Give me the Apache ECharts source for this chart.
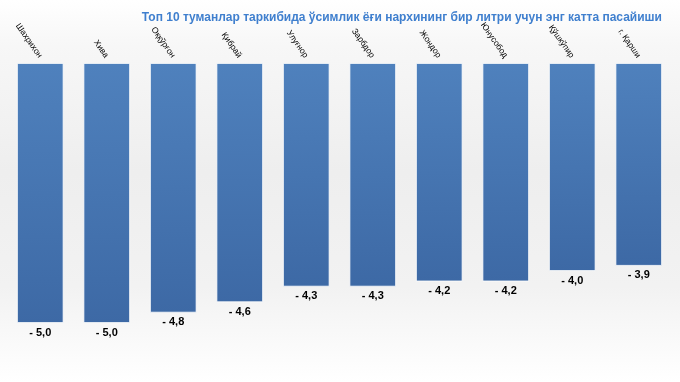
<!DOCTYPE html>
<html>
<head>
<meta charset="utf-8">
<script src="https://cdn.jsdelivr.net/npm/echarts@6/dist/echarts.min.js"></script>
<style>
html,body{margin:0;padding:0;}
#c{width:680px;height:382px;background:linear-gradient(to bottom,#ffffff 0%,#f7f7f7 12%,#eeeeee 45%,#f2f2f2 75%,#ffffff 100%);}
</style>
</head>
<body>
<div id="c"></div>
<script>
const titleText = 'Топ 10 туманлар таркибида ўсимлик ёғи нархининг бир литри учун энг катта пасайиши';
const categories = ['Шахрихон','Хива','Оққўрғон','Қибрай','Улуғнор','Зарбдор','Жондор','Юнусобод','Қўшкўпир','г. Қарши'];
const values = [-5.0,-5.0,-4.8,-4.6,-4.3,-4.3,-4.2,-4.2,-4.0,-3.9];

const chart = echarts.init(document.getElementById('c'), null, {renderer:'canvas'});
chart.setOption({
  backgroundColor: 'transparent',
  animation: false,
  title: {
    text: titleText,
    right: 13, top: 7,
    textStyle: {fontFamily:'Liberation Sans, Arial, sans-serif', fontSize: 12, fontWeight: 'bold', color: '#3f7fce'}
  },
  grid: {left: 7, right: 8, top: 63, bottom: 7, containLabel: false},
  xAxis: {
    type: 'category',
    position: 'top',
    data: categories,
    axisLine: {show: false},
    axisTick: {show: false},
    axisLabel: {
      rotate: -55,
      margin: 6,
      interval: 0,
      fontFamily: 'Liberation Sans, Arial, sans-serif',
      fontSize: 8.5,
      color: '#000'
    }
  },
  yAxis: {
    type: 'value',
    min: -6, max: 0,
    show: false,
    splitLine: {show: false}
  },
  series: [{
    type: 'bar',
    data: values,
    barCategoryGap: '30%',
    itemStyle: {
      color: new echarts.graphic.LinearGradient(0,0,0,1,[{offset:0,color:'#4f81bd'},{offset:1,color:'#3d69a5'}]),
      borderColor: '#ffffff',
      borderWidth: 0.8
    },
    label: {
      show: true,
      position: 'bottom',
      distance: 4,
      fontFamily: 'Liberation Sans, Arial, sans-serif',
      fontSize: 11,
      fontWeight: 'bold',
      color: '#000',
      formatter: p => '- ' + Math.abs(p.value).toFixed(1).replace('.', ',')
    }
  }]
});
</script>
</body>
</html>
